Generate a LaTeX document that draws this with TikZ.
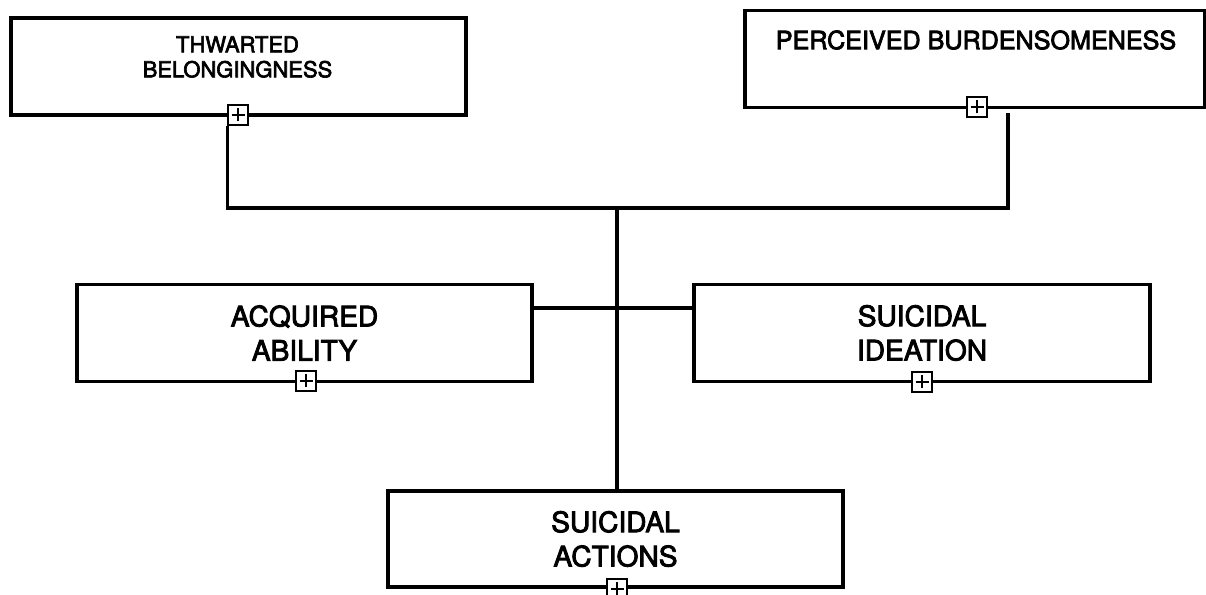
\documentclass[tikz,border=0pt]{standalone}
\usepackage{fontspec}
\setmainfont[FakeBold=3]{TeX Gyre Heros}
\begin{document}
\begin{tikzpicture}[
  box/.style={draw, rectangle, line width=2pt, minimum width=9.1cm, minimum height=1.94cm, align=center, inner sep=0pt, font=\fontsize{16}{19.5}\selectfont},
  link/.style={line width=2pt},
  plusbox/.style={draw, fill=white, line width=0.6pt, minimum size=0.4cm, inner sep=0pt,
    path picture={\draw[line width=0.6pt]
      ([xshift=-0.13cm]path picture bounding box.center) -- ([xshift=0.13cm]path picture bounding box.center)
      ([yshift=-0.13cm]path picture bounding box.center) -- ([yshift=0.13cm]path picture bounding box.center);}}
]
\useasboundingbox (0,0) rectangle (24.12,-11.9);

% Factors
\node[box] (tb) at (4.77,-1.33) {};
\node[font=\fontsize{12.5}{14.2}\selectfont, align=center] (tbtext) at (4.75,-1.14) {THWARTED\\BELONGINGNESS};
\node[box, minimum width=9.2cm] (pb) at (19.5,-1.18) {};
\node[font=\fontsize{14.3}{17}\selectfont] (pbtext) at (19.52,-0.8) {PERCEIVED BURDENSOMENESS};
\node[box] (aa) at (6.09,-6.66) {ACQUIRED\\ABILITY};
\node[box, minimum width=9.12cm] (si) at (18.44,-6.66) {SUICIDAL\\IDEATION};
\node[box, minimum height=1.92cm] (sa) at (12.31,-10.78) {SUICIDAL\\ACTIONS};

% Expand markers
\node[plusbox] (tbplus) at (4.76,-2.30) {};
\node[plusbox] (pbplus) at (19.54,-2.14) {};
\node[plusbox] (aaplus) at (6.12,-7.62) {};
\node[plusbox] (siplus) at (18.44,-7.64) {};
\node[plusbox] (saplus) at (12.34,-11.78) {};

% Links
\coordinate (hub) at (12.34,-4.16);
\coordinate (pbfoot) at (20.16,-2.26);
\draw[link] (tbplus.south west) |- (hub) -| (pbfoot);
\draw[link] (hub) -- (hub |- sa.north);
\draw[link] ([yshift=0.5cm]aa.east) -- ([yshift=0.5cm]si.west);

\end{tikzpicture}
\end{document}
